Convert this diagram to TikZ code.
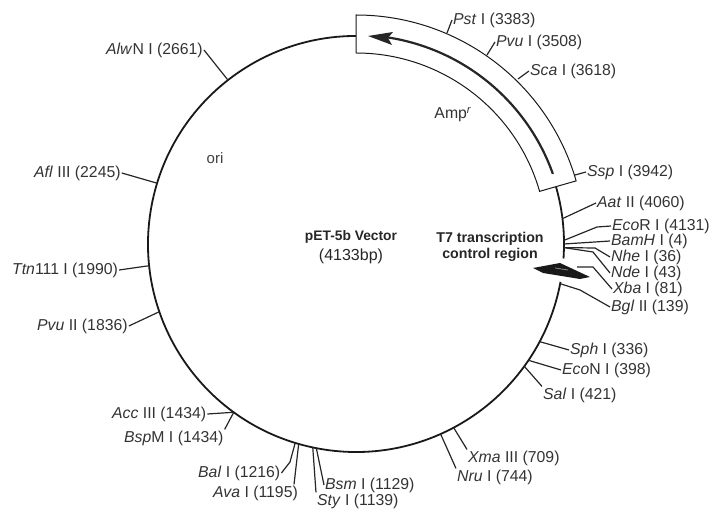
\documentclass[tikz,border=0pt]{standalone}
\usepackage{fontspec}
\setmainfont{Liberation Sans}
\tikzset{
  site/.style={right, inner sep=1pt, text=black!80, font=\fontsize{15.8}{18}\selectfont},
  tick/.style={line width=1.2pt, black!85},
  backbone/.style={line width=1.8pt, black!90},
  title/.style={inner sep=0pt, align=center, text=black!85},
}
\begin{document}
\begin{tikzpicture}[x=1pt,y=1pt]
    \useasboundingbox (0,0) rectangle (715,514);
    \node[circle, minimum size=416pt, inner sep=0pt, outer sep=0pt] (ring) at (356,270) {};

    % plasmid, open at the promoter
    \draw[backbone] ([shift={(-10.5:208)}]ring.center) arc[start angle=-10.5, end angle=-364, radius=208];

    % Amp box and its arrow
    \draw[line width=1pt, black!90, fill=white] ([shift={(90:229)}]ring.center) arc[start angle=90, end angle=16, radius=229]
        -- ([shift={(16:191)}]ring.center) arc[start angle=16, end angle=90, radius=191] -- cycle;
    \draw[line width=2.2pt, black!85] ([shift={(19.6:209)}]ring.center) arc[start angle=19.6, end angle=82, radius=209];
    \fill[black!85] (368,478) -- (393,482) -- (388,476) -- (392,469) -- cycle;

    % promoter
    \fill[black!90] (533,246) -- (560,251) -- (590,237) -- (580,235) -- (543,241) -- cycle;
    \draw[black!45, line width=0.8pt] (555,246) -- (568,244);

    \node[site] (pst) at (452,494) {\textit{Pst} I (3383)};
    \node[site] (pvu) at (495,472) {\textit{Pvu} I (3508)};
    \node[site] (sca) at (529,443) {\textit{Sca} I (3618)};
    \node[site] (ssp) at (586,342) {\textit{Ssp} I (3942)};
    \node[site] (aat) at (596,311) {\textit{Aat} II (4060)};
    \node[site] (eco) at (611,288) {\textit{Eco}R I (4131)};
    \node[site] (bam) at (610,273) {\textit{BamH} I (4)};
    \node[site] (nhe) at (610,257) {\textit{Nhe} I (36)};
    \node[site] (nde) at (610,241) {\textit{Nde} I (43)};
    \node[site] (xba) at (612,225) {\textit{Xba} I (81)};
    \node[site] (bgl) at (610,207) {\textit{Bgl} II (139)};
    \node[site] (sph) at (569,164) {\textit{Sph} I (336)};
    \node[site] (ecn) at (561,144) {\textit{Eco}N I (398)};
    \node[site] (sal) at (542,119) {\textit{Sal} I (421)};
    \node[site] (xma) at (467,56) {\textit{Xma} III (709)};
    \node[site] (nru) at (456,37) {\textit{Nru} I (744)};
    \node[site] (bsm) at (324,29) {\textit{Bsm} I (1129)};
    \node[site] (sty) at (316,13) {\textit{Sty} I (1139)};
    \node[site] (bal) at (197,41) {\textit{Bal} I (1216)};
    \node[site] (ava) at (212,21) {\textit{Ava} I (1195)};
    \node[site] (bsp) at (123,76) {\textit{Bsp}M I (1434)};
    \node[site] (acc) at (111,100) {\textit{Acc} III (1434)};
    \node[site] (pvt) at (36,188) {\textit{Pvu} II (1836)};
    \node[site] (ttn) at (11,244) {\textit{Ttn}111 I (1990)};
    \node[site] (afl) at (33,341) {\textit{Afl} III (2245)};
    \node[site] (alw) at (105,464) {\textit{Alw}N I (2661)};

    \coordinate (pstfoot) at (447,481);
    \coordinate (pvufoot) at (487,459);
    \coordinate (scafoot) at (518,435);
    \coordinate (sspfoot) at (575,339);
    \coordinate (xbafoot) at (577,247);

    \draw[tick] (pstfoot) -- (pst.west);
    \draw[tick] (pvufoot) -- (pvu.west);
    \draw[tick] (scafoot) -- (sca.west);
    \draw[tick] (sspfoot) -- (ssp.west);
    \draw[tick] (ring.7.4) -- (aat.west);
    \draw[tick] (ring.1.4) -- (597,287) -- (eco.west);
    \draw[tick] (ring.0.8) -- (bam.west);
    \draw[tick] (ring.-1.1) -- (595,266) -- (nhe.west);
    \draw[tick] (ring.-1.6) -- (593,262) -- (nde.west);
    \draw[tick] (xbafoot) -- (593,247) -- (xba.west);
    \draw[tick] (ring.-11.7) -- (580,224) -- (bgl.west);
    \draw[tick] (ring.-28.5) -- (sph.west);
    \draw[tick] (ring.-34.7) -- (ecn.west);
    \draw[tick] (ring.-36.5) -- (sal.north west);
    \draw[tick] (ring.-62.7) -- (xma.north west);
    \draw[tick] (ring.-66.2) -- (nru.north west);
    \draw[tick] (ring.259.2) -- (bsm.west);
    \draw[tick] (ring.258.9) -- (sty.north west);
    \draw[tick] (ring.253) -- (290,52) -- (bal.east);
    \draw[tick] (ring.254.4) -- ([xshift=-5pt]ava.north east);
    \draw[tick] (ring.234.7) -- (acc.east);
    \draw[tick] (ring.234.7) -- (bsp.north east);
    \draw[tick] (ring.199.4) -- (pvt.east);
    \draw[tick] (ring.186.3) -- (ttn.east);
    \draw[tick] (ring.163.8) -- (afl.east);
    \draw[tick] (ring.128.5) -- (alw.east);

    \node[text=black!75, font=\fontsize{15}{18}\selectfont] (ori) at (215,356) {ori};
    \node[text=black!80, font=\fontsize{15.8}{18}\selectfont] (amp) at (453,399) {Amp\textsuperscript{\textit{r}}};
    \node[title] (vector) at (351,267) {\fontsize{13.8}{17}\selectfont\textbf{pET-5b Vector}\\[5pt]\fontsize{16}{18}\selectfont(4133bp)};
    \node[title, font=\fontsize{14.2}{16.5}\selectfont\bfseries] (region) at (490,267) {T7 transcription\\control region};
    \end{tikzpicture}
\end{document}
